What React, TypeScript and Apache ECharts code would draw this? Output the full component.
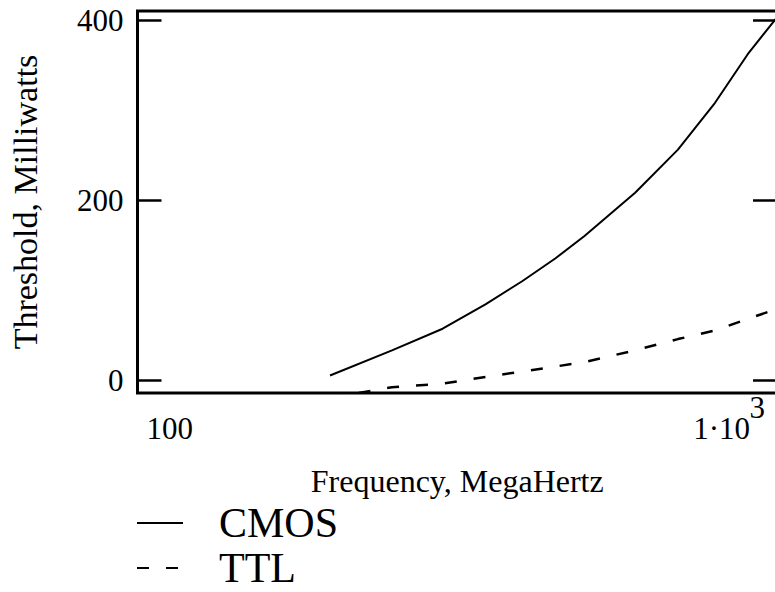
import React, { useEffect, useRef } from "react";
import * as echarts from "echarts";

// Frequency, MegaHertz (log axis)
const frequencies = [200, 250, 300, 350, 400, 450, 500, 600, 700, 800, 900, 1000];
// Threshold, Milliwatts
const cmosValues = [5, 33, 57, 84, 110, 135, 160, 208, 256, 308, 362, 403];
const ttlValues = [-20, -8, -4, 3.5, 9.5, 15, 20, 33, 45.5, 55, 68, 79];
const yTickValues = [0, 200, 400];
const xTickValues = [100, 1000];

const FONT = '"Liberation Serif", "Times New Roman", serif';

export default function App() {
  const ref = useRef<HTMLDivElement>(null);
  useEffect(() => {
    if (!ref.current) return;
    const chart = echarts.init(ref.current, null, { renderer: "svg" });
    const pair = (vals: number[]) => frequencies.map((f, i) => [f, vals[i]]);
    const yCommon = {
      type: "value",
      min: -14.4,
      max: 410,
      splitLine: { show: false },
      axisLine: { show: false },
      axisTick: {
        show: true,
        inside: true,
        length: 24,
        customValues: yTickValues,
        lineStyle: { color: "#000", width: 2.5 },
      },
    };
    const tok = { fontSize: 31, fontFamily: FONT, color: "#000" };
    chart.setOption({
      animation: false,
      backgroundColor: "#fff",
      textStyle: { fontFamily: FONT, color: "#000" },
      grid: {
        left: 137.5,
        top: 11,
        right: -2,
        bottom: 199,
        show: true,
        borderColor: "#000",
        borderWidth: 3,
        outerBoundsMode: "none",
        containLabel: false,
      },
      xAxis: {
        type: "log",
        logBase: 10,
        min: 100,
        max: 1000,
        name: "Frequency, MegaHertz",
        nameLocation: "middle",
        nameGap: 72,
        nameTextStyle: { fontSize: 32, fontFamily: FONT, color: "#000" },
        axisLine: { show: false },
        axisTick: { show: false },
        splitLine: { show: false },
        axisLabel: {
          show: true,
          customValues: xTickValues,
          showMinLabel: true,
          showMaxLabel: true,
          alignMinLabel: "left",
          alignMaxLabel: "right",
          margin: 9,
          color: "#000",
          fontFamily: FONT,
          fontSize: 31,
          formatter: (v: number) => (v <= 100 ? "{s| }\n{m|100}" : "{b|3}\n{a|1·10}"),
          rich: {
            s: { ...tok, lineHeight: 11 },
            m: { ...tok, lineHeight: 31, padding: [0, 0, 0, 9] },
            a: { ...tok, lineHeight: 31, padding: [0, 27, 0, 0] },
            b: { ...tok, lineHeight: 11, padding: [0, 12, 0, 0] },
          },
        },
      },
      yAxis: [
        {
          ...yCommon,
          position: "left",
          name: "Threshold, Milliwatts",
          nameLocation: "middle",
          nameGap: 95,
          nameTextStyle: { fontSize: 34, fontFamily: FONT, color: "#000" },
          axisLabel: {
            show: true,
            customValues: yTickValues,
            margin: 14,
            color: "#000",
            fontFamily: FONT,
            fontSize: 31,
            padding: [14, 0, 0, 0],
          },
        },
        {
          ...yCommon,
          position: "right",
          axisLabel: { show: false },
        },
      ],
      legend: {
        orient: "vertical",
        left: 136,
        top: 502,
        height: 140,
        padding: 0,
        itemWidth: 46,
        itemHeight: 14,
        itemGap: 3,
        selectedMode: false,
        itemStyle: { color: "transparent", borderColor: "transparent", borderWidth: 0, opacity: 0 },
        textStyle: {
          fontSize: 42,
          fontFamily: FONT,
          color: "#000",
          padding: [0, 0, 0, 31],
        },
        data: ["CMOS", "TTL"],
      },
      series: [
        {
          name: "CMOS",
          type: "line",
          data: pair(cmosValues),
          symbol: "none",
          lineStyle: { color: "#000", width: 2 },
          itemStyle: { color: "#000" },
          clip: true,
        },
        {
          name: "TTL",
          type: "line",
          data: pair(ttlValues),
          symbol: "none",
          lineStyle: { color: "#000", width: 2.5, type: [12, 17] },
          itemStyle: { color: "#000" },
          clip: true,
        },
      ],
    });
    return () => chart.dispose();
  }, []);
  return (
    <div
      ref={ref}
      style={{ position: "fixed", left: 0, top: 0, width: 775, height: 592, background: "#fff" }}
    />
  );
}
